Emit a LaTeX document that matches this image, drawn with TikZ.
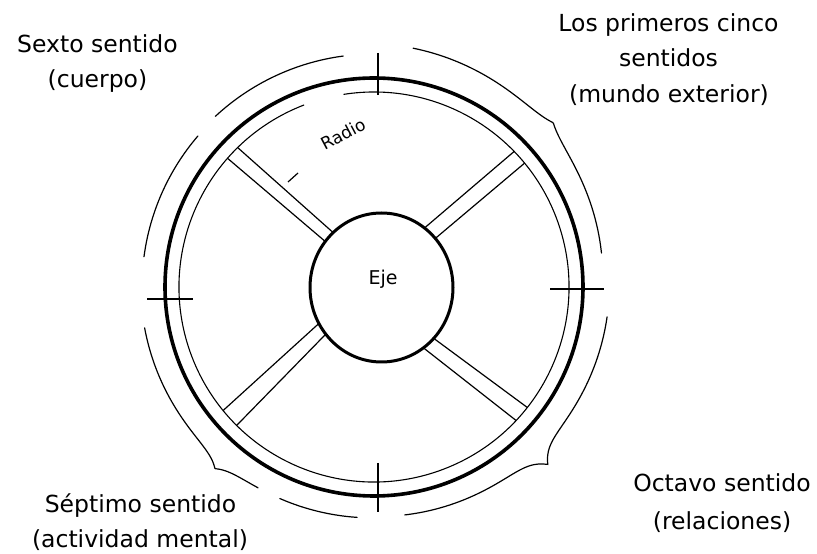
\documentclass[tikz,border=0pt]{standalone}
\usepackage{fontspec}
\setmainfont{DejaVu Sans}
\begin{document}
\begin{tikzpicture}[x=1pt,y=1pt,
  lbl/.style={font=\fontsize{23.5}{28}\selectfont, anchor=base, inner sep=0pt},
  rimthick/.style={line width=3.6pt},
  rimthin/.style={line width=1.1pt},
  spokeline/.style={line width=1.2pt, shorten <=-10pt, shorten >=-14pt},
  bracel/.style={line width=1.2pt, line cap=round},
  tickline/.style={line width=1.5pt},
  hubline/.style={line width=3pt, fill=white}]
\useasboundingbox (0,0) rectangle (817,554);

% labels
\node[lbl] (sextoA) at (97.5,501) {Sexto sentido};
\node[lbl] (sextoB) at (97.5,466) {(cuerpo)};
\node[lbl] (losA) at (668.5,522) {Los primeros cinco};
\node[lbl] (losB) at (668.5,487) {sentidos};
\node[lbl] (losC) at (669,451) {(mundo exterior)};
\node[lbl] (sepA) at (140.5,41) {Séptimo sentido};
\node[lbl] (sepB) at (140,6) {(actividad mental)};
\node[lbl] (octA) at (722,62) {Octavo sentido};
\node[lbl] (octB) at (722,24) {(relaciones)};

% spokes, clipped to the inner rim
\begin{scope}
  \clip (374,267) circle[radius=195];
  \draw[spokeline] (237,407) -- (328,326);
  \draw[spokeline] (226,397) -- (320,317);
  \draw[spokeline] (510,399) -- (428,329);
  \draw[spokeline] (520,387) -- (437,317);
  \draw[spokeline] (227,147) -- (315,227);
  \draw[spokeline] (240,132) -- (323,217);
  \draw[spokeline] (528,146) -- (440,211);
  \draw[spokeline] (518,132) -- (430,201);
\end{scope}

% hub
\draw[hubline] (381.5,266.5) ellipse[x radius=71.5, y radius=74.5];
\node[font=\fontsize{19}{22}\selectfont, anchor=base, inner sep=0pt] (eje) at (383,269) {Eje};

% rims and braces
\begin{scope}[shift={(374,267)}]
  \draw[rimthick] (0,0) circle[radius=209];
  \draw[rimthin] (111:195) arc[start angle=111, end angle=459, radius=195];
  % top-right brace
  \draw[bracel] plot[domain=8.5:80.7, samples=240]
    (\x:{230+(\x-8.5)*0.166+7.5*exp(-abs(\x-42.5)/4)});
  % bottom-right brace
  \draw[bracel] plot[domain=-82.3:-7.3, samples=240]
    (\x:{230+(\x+82.3)*0.0667+16*exp(-abs(\x+45.6)/2.8)});
  % bottom-left brace
  \draw[bracel] plot[domain=190.1:240, samples=200]
    (\x:{233-(\x-190.1)*0.0264+9.5*exp(-abs(\x-228.8)/3)});
  \draw[bracel] plot[domain=246:265.8, samples=60]
    (\x:{233-(\x-190.1)*0.0264+9.5*exp(-abs(\x-228.8)/3)});
  % top-left arcs
  \draw[bracel] (97.6:233) arc[start angle=97.6, end angle=132.9, radius=233];
  \draw[bracel] (139.4:232) arc[start angle=139.4, end angle=172.5, radius=232];
\end{scope}

% ticks on the rim
\draw[tickline] (378,501) -- (378,459);
\draw[tickline] (147,255) -- (193,255);
\draw[tickline] (550,265) -- (604,265);
\draw[tickline] (378,91) -- (378,42);

% radius label
\draw[line width=1.2pt] (288,372) -- (298,381);
\node[font=\fontsize{17}{20}\selectfont, rotate=28, inner sep=0pt] (radio) at (343,420) {Radio};
\end{tikzpicture}
\end{document}
